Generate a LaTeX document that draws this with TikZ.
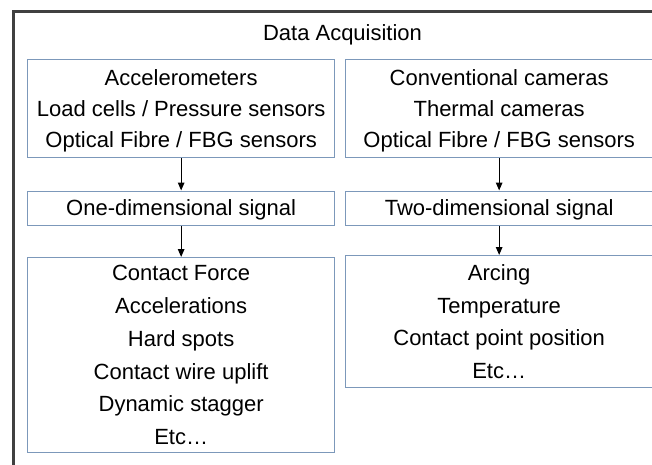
\documentclass[tikz,border=0pt]{standalone}
\usepackage{fontspec}
\setmainfont{Liberation Sans}
\usetikzlibrary{arrows.meta}
\definecolor{boxline}{RGB}{124,152,186}
\definecolor{frameline}{RGB}{64,64,64}
\tikzset{
  box/.style={draw=boxline, line width=1.3pt, anchor=north west, inner sep=0pt},
  txt/.style={align=center, inner sep=0pt, font=\fontsize{22}{31}\selectfont},
  bigtxt/.style={txt, font=\fontsize{22}{32.8}\selectfont},
  arr/.style={line width=1.3pt, -{Triangle[length=8pt,width=6.5pt]}},
  frame/.style={draw=frameline, line width=3pt},
  title/.style={font=\fontsize{22}{26}\selectfont}
}
\begin{document}
\begin{tikzpicture}[x=1pt,y=-1pt]
\useasboundingbox (0,0) rectangle (652,464);
\draw[frame] (13.5,11.5) rectangle (700,520);
\node[title] (t) at (342.5,34.5) {Data Acquisition};
% left column
\node[box, minimum width=307pt, minimum height=98pt] (s1) at (27,59) {};
\node[box, minimum width=307pt, minimum height=34pt] (m1) at (27,190.5) {};
\node[box, minimum width=307pt, minimum height=195pt] (o1) at (27,257) {};
% right column
\node[box, minimum width=309pt, minimum height=98pt] (s2) at (345,59) {};
\node[box, minimum width=309pt, minimum height=34pt] (m2) at (345,190.5) {};
\node[box, minimum width=309pt, minimum height=132pt] (o2) at (345,255) {};
% texts
\node[txt] (s1t) at ([yshift=-2pt]s1.center)
  {Accelerometers\\Load cells / Pressure sensors\\Optical Fibre / FBG sensors};
\node[txt] (m1t) at ([yshift=-1.5pt]m1.center) {One-dimensional signal};
\node[bigtxt] (o1t) at (o1.center)
  {Contact Force\\Accelerations\\Hard spots\\Contact wire uplift\\Dynamic stagger\\Etc…};
\node[txt] (s2t) at ([yshift=-2pt,xshift=-1pt]s2.center)
  {Conventional cameras\\Thermal cameras\\Optical Fibre / FBG sensors};
\node[txt] (m2t) at ([yshift=-1.5pt,xshift=-1pt]m2.center) {Two-dimensional signal};
\node[bigtxt] (o2t) at ([xshift=-1pt]o2.center)
  {Arcing\\Temperature\\Contact point position\\Etc…};
% arrows
\draw[arr] (s1.south) -- (m1.north);
\draw[arr] (m1.south) -- (o1.north);
\draw[arr] ([xshift=-1pt]s2.south) -- ([xshift=-1pt]m2.north);
\draw[arr] ([xshift=-1pt]m2.south) -- ([xshift=-1pt]o2.north);
\end{tikzpicture}
\end{document}
